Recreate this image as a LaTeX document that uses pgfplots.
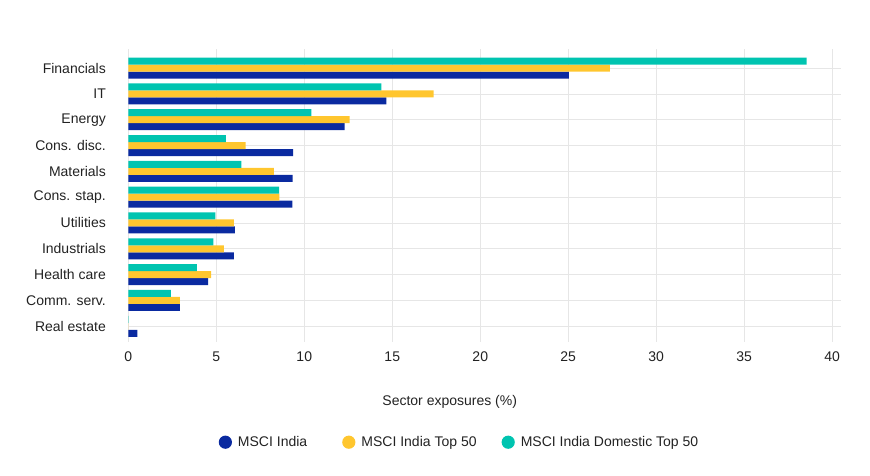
\documentclass[border=0pt]{standalone}
\usepackage{pgfplots}
\pgfplotsset{compat=1.18}
\usepackage{fontspec}
\setmainfont{Liberation Sans}
\definecolor{cblue}{HTML}{0A2AA0}
\definecolor{cyellow}{HTML}{FFC62E}
\definecolor{cteal}{HTML}{00C4B0}
\definecolor{cgrid}{HTML}{E6E6E6}
\definecolor{ctext}{HTML}{222222}
\begin{document}
\begin{tikzpicture}
\useasboundingbox (0,0) rectangle (870pt,-476pt);
\begin{axis}[
  at={(128.3pt,-342pt)}, anchor=south west,
  scale only axis, width=712.7pt, height=293pt,
  xbar, bar width=7pt,
  xmin=0, xmax=40.5, ymin=-0.61, ymax=10.74,
  xtick={0,5,...,40},
  ytick={0,...,10},
  yticklabels={Real estate, Comm. serv., Health care, Industrials, Utilities, Cons. stap., Materials, Cons. disc., Energy, IT, Financials},
  grid=major, major grid style={cgrid, line width=0.8pt},
  axis line style={draw=none}, tick style={draw=none},
  /pgf/number format/assume math mode=true,
  x tick label style={font=\fontsize{14pt}{16pt}\selectfont, text=ctext, inner sep=0pt, anchor=north, yshift=-10pt},
  y tick label style={font=\fontsize{14pt}{16pt}\selectfont, text=ctext, inner sep=0pt, anchor=east, xshift=-18pt},
  xlabel={Sector exposures (\%)},
  xlabel style={font=\fontsize{14pt}{16pt}\selectfont, text=ctext, at={(axis description cs:0.451,-0.204)}, anchor=center},
  legend style={at={(axis description cs:0.4647,-0.342)}, anchor=center, draw=none, fill=none,
    font=\fontsize{14pt}{16pt}\selectfont, text=ctext, legend columns=3,
    /tikz/every odd column/.append style={column sep=4pt},
    /tikz/column 2/.append style={column sep=33pt},
    /tikz/column 4/.append style={column sep=23pt}},
  legend image code/.code={\fill[#1] (0pt,0pt) circle (6.6pt);},
]
\addplot[fill=cblue, draw=none, bar shift=-7pt] coordinates {
 (25.03,10) (14.67,9) (12.29,8) (9.37,7) (9.34,6) (9.32,5) (6.05,4) (6.0,3) (4.54,2) (2.93,1) (0.51,0)};
\addplot[fill=cyellow, draw=none, bar shift=0pt] coordinates {
 (27.36,10) (17.35,9) (12.58,8) (6.67,7) (8.27,6) (8.59,5) (6.0,4) (5.43,3) (4.70,2) (2.93,1) (0,0)};
\addplot[fill=cteal, draw=none, bar shift=7pt] coordinates {
 (38.55,10) (14.38,9) (10.41,8) (5.54,7) (6.43,6) (8.57,5) (4.95,4) (4.84,3) (3.90,2) (2.42,1) (0.02,0)};
\legend{MSCI India, MSCI India Top 50, MSCI India Domestic Top 50}
\end{axis}
\end{tikzpicture}
\end{document}
